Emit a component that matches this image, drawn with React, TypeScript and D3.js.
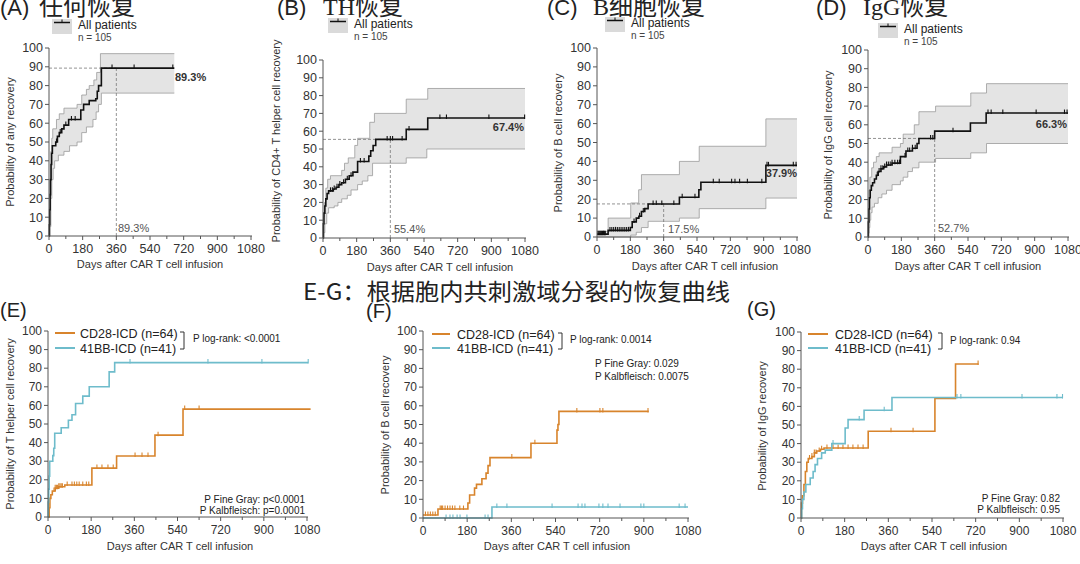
import React from "react";
import * as d3 from "d3";

type Pt = [number, number];

// ---------- Data (day, probability %) ----------
// (A) any recovery
const anyRecovery: Pt[] = [[0,0],[2,6],[4,14],[6,22],[8,30],[11,38],[14,44],[18,48],[36,50],[45,53],[55,55],[68,57],[80,59],[105,62],[170,67],[185,70],[215,72],[250,73],[258,77],[265,80],[280,89.3],[670,89.3]];
const anyUpper: Pt[] = [[0,0],[3,15],[6,30],[10,45],[15,52],[20,57],[40,62],[55,65],[80,68],[150,70],[175,75],[200,78],[215,80],[240,83],[255,87],[275,97],[670,97]];
const anyLower: Pt[] = [[0,0],[5,5],[10,20],[15,30],[22,36],[30,40],[50,43],[80,45],[110,48],[150,50],[175,55],[200,58],[235,62],[252,66],[265,70],[280,76],[670,76]];
const anyCensor = [40, 60, 90, 120, 140, 337, 455, 662];

// (B) CD4+ T helper
const thRecovery: Pt[] = [[0,0],[2,8],[5,14],[10,18],[15,22],[22,25],[30,26.5],[55,27.5],[70,28.5],[85,30],[100,31],[120,33],[140,35],[160,37],[185,43],[245,46],[255,49],[268,52],[282,55.4],[445,61],[560,67.4],[1080,67.4]];
const thUpper: Pt[] = [[0,0],[3,12],[8,20],[15,28],[25,33],[40,35],[100,38],[115,42],[135,45],[170,52],[185,56],[250,65],[275,70],[445,78],[560,84],[1080,84]];
const thLower: Pt[] = [[0,0],[5,3],[10,8],[20,14],[30,17],[60,18],[80,20],[100,22],[130,24],[150,27],[185,30],[210,32],[240,35],[265,42],[445,45],[555,50],[1080,50]];
const thCensor = [40, 50, 60, 75, 90, 110, 130, 150, 200, 220, 343, 360, 372, 423, 460, 625, 660, 887, 1078];

// (C) B cell
const bRecovery: Pt[] = [[0,1.5],[60,3.5],[180,5],[190,8],[212,10],[226,11],[240,13.5],[258,15],[276,17.5],[445,21],[550,25],[561,29],[912,37.9],[1080,37.9]];
const bUpper: Pt[] = [[0,3],[60,10],[182,18],[225,25],[240,33],[445,40],[552,48],[912,62.5],[1080,62.5]];
const bLower: Pt[] = [[0,0],[182,1],[212,2.5],[240,5],[276,8.3],[445,10],[552,15],[912,20.6],[1080,20.6]];
const bCensor = [5, 10, 15, 20, 25, 30, 35, 40, 45, 70, 80, 90, 100, 110, 120, 130, 140, 150, 160, 170, 200, 230, 250, 303, 320, 350, 415, 460, 529, 628, 660, 727, 745, 770, 812, 890, 918, 926, 1060, 1075];

// (D) IgG
const iggRecovery: Pt[] = [[0,0],[2,8],[5,15],[8,21],[12,25],[18,27.5],[25,29],[35,31],[45,33],[55,35],[70,36.5],[85,37.5],[100,38.5],[130,39.5],[175,43],[205,46],[240,47.5],[265,50],[275,52.7],[360,56.6],[553,61],[638,66.3],[1080,66.3]];
const iggUpper: Pt[] = [[0,0],[2,15],[5,25],[10,32],[20,37],[30,40],[45,43],[60,45],[130,48],[175,50],[190,55],[250,60],[275,67],[365,70],[555,77],[640,82],[1080,82]];
const iggLower: Pt[] = [[0,0],[3,2],[6,5],[10,9],[15,13],[22,16],[35,18],[55,21],[75,23],[100,25],[130,28],[175,30],[190,32],[215,35],[240,37],[275,40],[365,42],[555,45],[640,50],[1080,50]];
const iggCensor = [50, 60, 70, 80, 90, 100, 110, 120, 130, 145, 160, 170, 200, 215, 225, 240, 255, 338, 350, 459, 648, 665, 728, 908, 1061, 1075];

// (E) T helper by costimulatory domain
const thCD28: Pt[] = [[0,0],[5,5],[8,10],[12,12],[18,14],[30,15.5],[45,16.3],[70,17.2],[183,26.3],[286,32.8],[446,44],[563,58],[1095,58]];
const thCD28Censor = [25, 30, 35, 40, 45, 50, 55, 60, 80, 100, 110, 120, 130, 145, 160, 170, 204, 225, 250, 272, 363, 392, 417, 459, 570, 630];
const th41BB: Pt[] = [[0,0],[1,8],[3,15],[5,22],[7,30],[20,33],[24,37],[28,45],[55,48],[85,52],[100,55],[115,61],[145,65],[172,70],[255,78],[278,83],[1085,83]];
const th41BBCensor = [342, 667, 892, 1085];

// (F) B cell by costimulatory domain
const bCD28: Pt[] = [[0,1.6],[61,4.8],[183,8],[190,12.3],[210,16],[218,18],[240,21],[257,24],[265,28],[273,32.3],[440,40],[546,47],[550,50],[554,57],[920,57]];
const bCD28Censor = [10, 20, 30, 40, 50, 70, 75, 80, 90, 100, 110, 120, 130, 150, 165, 362, 456, 627, 721, 733, 917];
const b41BB: Pt[] = [[0,0],[281,5.9],[1080,5.9]];
const b41BBCensor = [94, 110, 122, 139, 151, 179, 253, 265, 301, 342, 526, 632, 648, 660, 717, 733, 754, 803, 888, 900, 1044, 1068];

// (G) IgG by costimulatory domain
const iggCD28: Pt[] = [[0,0],[2,8],[6,12],[12,18],[18,25],[24,30],[30,32],[45,33],[55,35],[65,36],[80,37],[95,37.6],[277,46.6],[552,64.3],[637,82.8],[732,82.8]];
const iggCD28Censor = [35, 45, 55, 62, 75, 85, 107, 132, 153, 173, 194, 214, 235, 256, 371, 462, 730];
const igg41BB: Pt[] = [[0,0],[3,5],[6,10],[12,14],[20,18],[38,21.5],[50,25],[58,28.7],[68,32],[85,35],[100,36.5],[127,40],[182,48.4],[194,52.9],[260,57.9],[375,64.8],[1080,64.8]];
const igg41BBCensor = [132, 240, 343, 643, 659, 911, 1055, 1078];

const xMajor = [0, 180, 360, 540, 720, 900, 1080];
const xMinor = [90, 270, 450, 630, 810, 990];
const yTicks = [0, 10, 20, 30, 40, 50, 60, 70, 80, 90, 100];

const ORANGE = "#D8842C";
const CYAN = "#6EBCCB";
const AXIS = "#555";
const TEXT = "#333";
const SANS = "Liberation Sans, Arial, sans-serif";
const CJK = "'Noto Sans CJK SC', sans-serif";
const SERIF = "'Liberation Serif', 'Noto Sans CJK SC', serif";

function stepAt(pts: Pt[], d: number): number {
  let v = pts[0][1];
  for (const p of pts) {
    if (p[0] <= d) v = p[1];
    else break;
  }
  return v;
}

interface Series { pts: Pt[]; color: string; censor: number[]; width: number }

interface PanelProps {
  x0: number; x1: number; yTop: number; yBot: number;
  series: Series[];
  upper?: Pt[]; lower?: Pt[];
  dashed?: number;
  yLabel: string; yLabelX: number; yLabelY: number;
  xLabelX: number; xLabelY: number;
  tickFont: number;
}

function Panel(p: PanelProps) {
  const x = d3.scaleLinear().domain([0, 1080]).range([p.x0, p.x1]);
  const y = d3.scaleLinear().domain([0, 100]).range([p.yBot, p.yTop]);
  const line = d3.line<Pt>().x(d => x(d[0])).y(d => y(d[1])).curve(d3.curveStepAfter);
  let band: string | null = null;
  if (p.upper && p.lower) {
    const days = Array.from(new Set([...p.upper.map(d => d[0]), ...p.lower.map(d => d[0])])).sort((a, b) => a - b);
    const rows = days.map(d => ({ d, lo: stepAt(p.lower!, d), hi: stepAt(p.upper!, d) }));
    band = d3.area<{ d: number; lo: number; hi: number }>()
      .x(r => x(r.d)).y0(r => y(r.lo)).y1(r => y(r.hi)).curve(d3.curveStepAfter)(rows);
  }
  return (
    <g>
      {band && <path d={band} fill="#e4e4e4" stroke="none" />}
      {p.upper && <path d={line(p.upper)!} fill="none" stroke="#9a9a9a" strokeWidth={0.8} />}
      {p.lower && <path d={line(p.lower)!} fill="none" stroke="#9a9a9a" strokeWidth={0.8} />}
      {p.dashed !== undefined && (
        <g stroke="#777" strokeWidth={0.8} strokeDasharray="3,2">
          <line x1={x(0)} x2={x(360)} y1={y(p.dashed)} y2={y(p.dashed)} />
          <line x1={x(360)} x2={x(360)} y1={y(0)} y2={y(p.dashed)} />
        </g>
      )}
      {p.series.map((s, i) => (
        <g key={i}>
          <path d={line(s.pts)!} fill="none" stroke={s.color} strokeWidth={s.width} />
          {s.censor.map((c, j) => (
            <line key={j} x1={x(c)} x2={x(c)} y1={y(stepAt(s.pts, c)) + 1} y2={y(stepAt(s.pts, c)) - 3.5} stroke={s.color} strokeWidth={1.1} />
          ))}
        </g>
      ))}
      {/* axes */}
      <line x1={p.x0} x2={p.x0} y1={p.yTop} y2={p.yBot} stroke={AXIS} strokeWidth={1} />
      <line x1={p.x0} x2={p.x1 + 1} y1={p.yBot} y2={p.yBot} stroke={AXIS} strokeWidth={1} />
      {yTicks.map(t => (
        <g key={t}>
          <line x1={p.x0 - 4} x2={p.x0} y1={y(t)} y2={y(t)} stroke={AXIS} />
          <text x={p.x0 - 6} y={y(t)} dy="0.35em" textAnchor="end" fontSize={p.tickFont} fontFamily={SANS} fill={TEXT}>{t}</text>
        </g>
      ))}
      {xMajor.map(t => (
        <g key={t}>
          <line x1={x(t)} x2={x(t)} y1={p.yBot} y2={p.yBot + 4} stroke={AXIS} />
          <text x={x(t)} y={p.yBot + 17} textAnchor="middle" fontSize={p.tickFont} fontFamily={SANS} fill={TEXT}>{t}</text>
        </g>
      ))}
      {xMinor.map(t => (
        <line key={t} x1={x(t)} x2={x(t)} y1={p.yBot} y2={p.yBot + 3} stroke={AXIS} />
      ))}
      <text x={p.xLabelX} y={p.xLabelY} textAnchor="middle" fontSize={11} fontFamily={SANS} fill={TEXT}>Days after CAR T cell infusion</text>
      <text transform={`translate(${p.yLabelX},${p.yLabelY}) rotate(-90)`} textAnchor="middle" dy="0.35em" fontSize={11} fontFamily={SANS} fill={TEXT}>{p.yLabel}</text>
    </g>
  );
}

function TopLegend({ bx, by }: { bx: number; by: number }) {
  return (
    <g>
      <rect x={bx} y={by} width={20} height={15} fill="#dadada" />
      <line x1={bx + 2} x2={bx + 18} y1={by + 3.5} y2={by + 3.5} stroke="#111" strokeWidth={1.5} />
      <line x1={bx + 10} x2={bx + 10} y1={by + 0.5} y2={by + 3.5} stroke="#111" strokeWidth={1} />
      <text x={bx + 26} y={by + 10} fontSize={12} fontFamily={SANS} fill="#222">All patients</text>
      <text x={bx + 26} y={by + 21.5} fontSize={10} fontFamily={SANS} fill="#444">n = 105</text>
    </g>
  );
}

function BottomLegend(p: { lx: number; lw: number; y1: number; y2: number; tx: number; bx: number; px: number; py: number; pText: string }) {
  return (
    <g>
      <line x1={p.lx} x2={p.lx + p.lw} y1={p.y1} y2={p.y1} stroke={ORANGE} strokeWidth={2} />
      <line x1={p.lx} x2={p.lx + p.lw} y1={p.y2} y2={p.y2} stroke={CYAN} strokeWidth={2} />
      <text x={p.tx} y={p.y1 + 5} fontSize={12.5} fontFamily={SANS} fill="#222">CD28-ICD (n=64)</text>
      <text x={p.tx} y={p.y2 + 5} fontSize={12.5} fontFamily={SANS} fill="#222">41BB-ICD (n=41)</text>
      <path d={`M${p.bx},${p.y1 - 1}H${p.bx + 4}V${p.y2 + 1}H${p.bx}`} fill="none" stroke="#333" strokeWidth={1} />
      <text x={p.px} y={p.py} fontSize={10} fontFamily={SANS} fill="#222">{p.pText}</text>
    </g>
  );
}

export default function App() {
  const blackW = 1.6;
  return (
    <svg width={1080} height={564} style={{ position: "absolute", left: 0, top: 0, background: "#fff" }}>
      <rect width={1080} height={564} fill="#fff" />
      {/* Titles top */}
      <text x={0} y={15} fontSize={22} fontFamily={SANS} fill="#222">(A)</text>
      <text x={39} y={15} fontSize={24} fontFamily={CJK} fill="#222">任何恢复</text>
      <text x={277} y={15} fontSize={22} fontFamily={SANS} fill="#222">(B)</text>
      <text x={323} y={15} fontSize={24} fontFamily={SERIF} fill="#222">TH恢复</text>
      <text x={547} y={15} fontSize={22} fontFamily={SANS} fill="#222">(C)</text>
      <text x={593} y={15} fontSize={24} fontFamily={SERIF} fill="#222">B细胞恢复</text>
      <text x={816} y={15} fontSize={22} fontFamily={SANS} fill="#222">(D)</text>
      <text x={863} y={15} fontSize={24} fontFamily={SERIF} fill="#222">IgG恢复</text>

      <TopLegend bx={52} by={19} />
      <TopLegend bx={328} by={18} />
      <TopLegend bx={605} by={17} />
      <TopLegend bx={878} by={23} />

      <Panel x0={49} x1={251} yTop={48} yBot={236} series={[{ pts: anyRecovery, color: "#111", censor: anyCensor, width: blackW }]}
        upper={anyUpper} lower={anyLower} dashed={89.3}
        yLabel="Probability of any recovery" yLabelX={10} yLabelY={142} xLabelX={150} xLabelY={268} tickFont={12.5} />
      <Panel x0={323} x1={525} yTop={60} yBot={238} series={[{ pts: thRecovery, color: "#111", censor: thCensor, width: blackW }]}
        upper={thUpper} lower={thLower} dashed={55.4}
        yLabel="Probability of CD4+ T helper cell recovery" yLabelX={276} yLabelY={141} xLabelX={440} xLabelY={271} tickFont={12.5} />
      <Panel x0={597} x1={797} yTop={48} yBot={237} series={[{ pts: bRecovery, color: "#111", censor: bCensor, width: blackW }]}
        upper={bUpper} lower={bLower} dashed={17.5}
        yLabel="Probability of B cell recovery" yLabelX={558} yLabelY={143} xLabelX={705} xLabelY={270} tickFont={12.5} />
      <Panel x0={868} x1={1068} yTop={50} yBot={237} series={[{ pts: iggRecovery, color: "#111", censor: iggCensor, width: blackW }]}
        upper={iggUpper} lower={iggLower} dashed={52.7}
        yLabel="Probability of IgG cell recovery" yLabelX={828} yLabelY={145} xLabelX={968} xLabelY={270} tickFont={12.5} />

      {/* percentage labels */}
      <g fontFamily={SANS} fontSize={11}>
        <text x={118} y={232} fill="#555">89.3%</text>
        <text x={175} y={81} fill="#333" fontWeight="bold">89.3%</text>
        <text x={394} y={233} fill="#555">55.4%</text>
        <text x={524} y={131} fill="#333" fontWeight="bold" textAnchor="end">67.4%</text>
        <text x={668} y={233} fill="#555">17.5%</text>
        <text x={797} y={177} fill="#333" fontWeight="bold" textAnchor="end">37.9%</text>
        <text x={938} y={232} fill="#555">52.7%</text>
        <text x={1067} y={128} fill="#333" fontWeight="bold" textAnchor="end">66.3%</text>
      </g>

      {/* bottom title */}
      <text x={303} y={300} fontSize={23} fontFamily={CJK} fill="#222" textLength={427} lengthAdjust="spacingAndGlyphs">E-G：根据胞内共刺激域分裂的恢复曲线</text>
      <text x={0} y={317} fontSize={20} fontFamily={SANS} fill="#222">(E)</text>
      <text x={366} y={318} fontSize={20} fontFamily={SANS} fill="#222">(F)</text>
      <text x={747} y={316} fontSize={20} fontFamily={SANS} fill="#222">(G)</text>

      <Panel x0={48} x1={307} yTop={331} yBot={517}
        series={[{ pts: thCD28, color: ORANGE, censor: thCD28Censor, width: 1.6 }, { pts: th41BB, color: CYAN, censor: th41BBCensor, width: 1.6 }]}
        yLabel="Probability of T helper cell recovery" yLabelX={10} yLabelY={424} xLabelX={180} xLabelY={550} tickFont={12} />
      <Panel x0={423} x1={688} yTop={331} yBot={518}
        series={[{ pts: bCD28, color: ORANGE, censor: bCD28Censor, width: 1.6 }, { pts: b41BB, color: CYAN, censor: b41BBCensor, width: 1.6 }]}
        yLabel="Probability of B cell recovery" yLabelX={385} yLabelY={425} xLabelX={557} xLabelY={550} tickFont={12} />
      <Panel x0={801} x1={1063} yTop={332} yBot={518}
        series={[{ pts: iggCD28, color: ORANGE, censor: iggCD28Censor, width: 1.6 }, { pts: igg41BB, color: CYAN, censor: igg41BBCensor, width: 1.6 }]}
        yLabel="Probability of IgG recovery" yLabelX={762} yLabelY={426} xLabelX={934} xLabelY={550} tickFont={12} />

      <BottomLegend lx={55} lw={20} y1={333} y2={348} tx={80} bx={180} px={193} py={342} pText="P log-rank: <0.0001" />
      <BottomLegend lx={432} lw={18} y1={334} y2={348} tx={457} bx={558} px={570} py={343} pText="P log-rank: 0.0014" />
      <BottomLegend lx={808} lw={20} y1={334} y2={348} tx={835} bx={938} px={950} py={344} pText="P log-rank: 0.94" />

      <g fontFamily={SANS} fontSize={10} fill="#222">
        <text x={305} y={503} textAnchor="end">P Fine Gray: p&lt;0.0001</text>
        <text x={305} y={514} textAnchor="end">P Kalbfleisch: p=0.0001</text>
        <text x={595} y={367}>P Fine Gray: 0.029</text>
        <text x={595} y={380}>P Kalbfleisch: 0.0075</text>
        <text x={1060} y={502} textAnchor="end">P Fine Gray: 0.82</text>
        <text x={1060} y={513} textAnchor="end">P Kalbfleisch: 0.95</text>
      </g>
    </svg>
  );
}
